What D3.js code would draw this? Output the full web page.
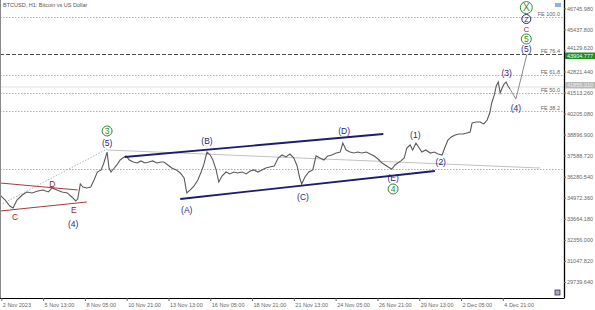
<!DOCTYPE html>
<html>
<head>
<meta charset="utf-8">
<script src="https://cdn.jsdelivr.net/npm/d3@7"></script>
<style>
  body { margin: 0; background: #fff; }
  svg { display: block; font-family: "Liberation Sans", Arial, sans-serif; }
</style>
</head>
<body>
<svg></svg>
<script>
const width = 595;
const height = 310;
const plotRight = 564;
const plotBottom = 298;

// hours since 2 Nov 2023 19:00 UTC, and H1 close prices (sampled)
const startTime = Date.UTC(2023, 10, 2, 19);
const barHours = [0, 8, 15, 20, 26, 34, 41, 49, 58, 66, 74, 80, 87, 95, 103, 110, 116, 119, 123, 127,
  133, 139, 144, 149, 155, 159, 164, 167, 170, 175, 179, 184, 188, 193, 198, 204, 210, 216, 222, 228,
  234, 240, 247, 251, 257, 263, 270, 276, 282, 286, 291, 297, 303, 308, 312, 317, 322, 326, 331, 335,
  340, 346, 352, 358, 364, 371, 377, 383, 389, 395, 401, 407, 413, 420, 426, 432, 438, 444, 450, 455,
  459, 462, 467, 473, 479, 484, 490, 496, 502, 508, 515, 521, 525, 530, 536, 542, 548, 554, 561, 567,
  573, 579, 585, 590, 597, 600, 605, 609, 614, 619, 623, 628, 632, 637, 642, 646, 652, 659, 665, 671,
  677, 681, 686, 691, 697, 703, 709, 715, 720, 723, 729, 735, 741, 746, 750, 753, 757, 760, 763, 766,
  769, 772, 775, 778, 781];
const barClose = [35140, 34830, 34460, 34330, 34830, 35140, 35330, 35270, 35390, 35450, 35330, 35580, 35450, 35330, 35270, 35020, 34770, 34890, 35830, 35640,
  35580, 35640, 36070, 36570, 36700, 37130, 37810, 36820, 36570, 36820, 37010, 37320, 37440, 37570, 37320, 37190, 37130, 37260, 37130, 37190,
  37260, 37130, 37190, 37190, 37010, 36820, 36700, 36510, 36200, 35270, 35450, 35700, 36070, 36570, 37010, 37810, 37630, 37320, 36700, 35950,
  36320, 36570, 36450, 36570, 36510, 36570, 36450, 36630, 36700, 36570, 36700, 36820, 36880, 36950, 37440, 37630, 37510, 37690, 37440, 36950,
  36200, 35830, 36260, 36570, 36700, 37570, 37440, 37320, 37570, 37630, 37750, 37810, 38370, 37940, 37810, 37750, 37810, 37750, 37810, 37690,
  37570, 37380, 37130, 37010, 36820, 36760, 37010, 37130, 37260, 37440, 38060, 38250, 37940, 38370, 38060, 37810, 37940, 37750, 37810, 37690,
  37630, 38060, 38560, 38750, 38870, 38930, 38930, 39000, 39060, 39620, 39680, 39680, 39560, 39800, 40240, 40860, 41360, 41920, 42170, 41480,
  41790, 42040, 42170, 41920, 41730];

// projected path: (4) then (5)
const forecastHours = [781, 790, 807];
const forecastPrice = [41730, 41110, 43905];

// Fibonacci expansion levels
const fibNames = ["FE 100.0", "FE 76.4", "FE 61.8", "FE 50.0", "FE 38.2", ""];
const fibPrice = [46205, 43905, 42594, 41479, 40363, 36752];

const priceTicks = [29739.640, 31047.820, 32356.000, 33664.180, 34972.360, 36280.540, 37588.720,
  38896.900, 40205.080, 41513.260, 42821.440, 44129.620, 45437.800, 46745.980];
const timeTicks = ["2023-11-02T21:00Z", "2023-11-05T13:00Z", "2023-11-08T05:00Z", "2023-11-10T21:00Z",
  "2023-11-13T13:00Z", "2023-11-16T05:00Z", "2023-11-18T21:00Z", "2023-11-21T13:00Z", "2023-11-24T05:00Z",
  "2023-11-26T21:00Z", "2023-11-29T13:00Z", "2023-12-02T05:00Z", "2023-12-04T21:00Z"];
const timeLabels = ["2 Nov 2023", "5 Nov 13:00", "8 Nov 05:00", "10 Nov 21:00", "13 Nov 13:00",
  "16 Nov 05:00", "18 Nov 21:00", "21 Nov 13:00", "24 Nov 05:00", "26 Nov 21:00", "29 Nov 13:00",
  "2 Dec 05:00", "4 Dec 21:00"];

// wave counts: [hour, price, text, kind]
const waveLabels = [
  [23, 33775, "C", "red"], [80, 35826, "D", "red"], [113, 34210, "E", "red"],
  [112, 33340, "(4)", "navy"], [164, 38374, "(5)", "navy"], [164, 39120, "3", "green"],
  [286, 34210, "(A)", "navy"], [317, 38499, "(B)", "navy"], [464, 35019, "(C)", "navy"],
  [527, 39120, "(D)", "navy"], [602, 36199, "(E)", "navy"], [602, 35516, "4", "green"],
  [636, 38872, "(1)", "navy"], [675, 37193, "(2)", "navy"], [776, 42725, "(3)", "navy"],
  [790, 40550, "(4)", "navy"], [806, 44217, "(5)", "navy"], [806, 44838, "5", "green"],
  [806, 45490, "C", "red"], [806, 46080, "Z", "navyCircle"], [806, 46790, "X", "bigGreen"]
];

// trend lines: [h1, p1, h2, p2]
const channelLines = [[191, 37504, 587, 38934], [276, 34894, 666, 36634]];
const triangleLines = [[0, 35889, 119, 35453], [0, 34148, 133, 34708]];
const greyLines = [[164, 37940, 827, 36821]];
const dottedLines = [[0, 34521, 164, 38002]];

const hourMs = 3600 * 1000;
const toDate = h => new Date(startTime + h * hourMs);

const svg = d3.select('svg').attr('width', width).attr('height', height);
const x = d3.scaleUtc()
    .domain([toDate(0), toDate(plotRight * 1.5314)])
    .range([0, plotRight]);
const y = d3.scaleLinear()
    .domain([28741, 47262])
    .range([plotBottom, 0]);

const colors = { navy: "#27277a", red: "#a11d22", green: "#2e8b2e" };

// fib levels
fibPrice.forEach((p, i) => {
    const yy = Math.round(y(p)) + 0.5;
    svg.append("line")
        .attr("x1", 0).attr("x2", plotRight).attr("y1", yy).attr("y2", yy)
        .style("stroke", i === 1 ? "#222" : "#9a9a9a")
        .style("stroke-width", 0.8)
        .style("stroke-dasharray", i === 1 ? "4,2" : "1.5,1.5");
    if (fibNames[i]) {
        svg.append("text")
            .attr("x", 560).attr("y", yy - 2)
            .attr("text-anchor", "end")
            .style("font-size", "5.5px").style("fill", "#666")
            .text(fibNames[i]);
    }
});

// bid line
svg.append("line")
    .attr("x1", 0).attr("x2", plotRight)
    .attr("y1", y(41855)).attr("y2", y(41855))
    .style("stroke", "#c8c8c8").style("stroke-width", 0.6);

function drawSegments(list, color, widthPx, dash) {
    svg.append("g").selectAll("line")
        .data(list)
        .enter().append("line")
        .attr("x1", d => x(toDate(d[0]))).attr("y1", d => y(d[1]))
        .attr("x2", d => x(toDate(d[2]))).attr("y2", d => y(d[3]))
        .style("stroke", color).style("stroke-width", widthPx)
        .style("stroke-dasharray", dash || null);
}

drawSegments(dottedLines, "#9a9a9a", 0.7, "1.5,1.5");
drawSegments(greyLines, "#a8a8a8", 0.7);

// price
const line = d3.line()
    .x((d, i) => x(toDate(barHours[i])))
    .y(d => y(d));
svg.append("path")
    .datum(barClose)
    .attr("d", line)
    .style("fill", "none")
    .style("stroke", "#5a5a5a")
    .style("stroke-width", 1.1);

const fLine = d3.line()
    .x((d, i) => x(toDate(forecastHours[i])))
    .y(d => y(d));
svg.append("path")
    .datum(forecastPrice)
    .attr("d", fLine)
    .style("fill", "none")
    .style("stroke", "#8a8a8a")
    .style("stroke-width", 1);

drawSegments(channelLines, "#1d1d6b", 1.8);
drawSegments(triangleLines, "#a23a44", 1);

// wave labels
waveLabels.forEach(([h, p, t, kind]) => {
    const cx = x(toDate(h));
    const cy = y(p);
    const g = svg.append("g");
    if (kind === "green" || kind === "bigGreen" || kind === "navyCircle") {
        const r = kind === "bigGreen" ? 6 : (kind === "navyCircle" ? 4.5 : 5);
        const c = kind === "navyCircle" ? colors.navy : colors.green;
        g.append("circle")
            .attr("cx", cx).attr("cy", cy).attr("r", r)
            .style("fill", "none").style("stroke", c).style("stroke-width", 1);
        g.append("text")
            .attr("x", cx).attr("y", cy + (kind === "navyCircle" ? 2.5 : 3))
            .attr("text-anchor", "middle")
            .style("font-size", kind === "bigGreen" ? "10px" : (kind === "navyCircle" ? "7px" : "8.5px"))
            .style("fill", c)
            .text(t);
    } else {
        g.append("text")
            .attr("x", cx).attr("y", cy + 3)
            .attr("text-anchor", "middle")
            .style("font-size", kind === "red" && h > 700 ? "8px" : "8.5px")
            .style("fill", colors[kind])
            .text(t);
    }
});

// frame
svg.append("line").attr("x1", 0.5).attr("x2", 0.5).attr("y1", 0).attr("y2", plotBottom)
    .style("stroke", "#888").style("stroke-width", 1);
svg.append("line").attr("x1", plotRight + 0.5).attr("x2", plotRight + 0.5).attr("y1", 0).attr("y2", plotBottom + 0.5)
    .style("stroke", "#000").style("stroke-width", 1.3);
svg.append("line").attr("x1", 0).attr("x2", plotRight).attr("y1", plotBottom + 0.5).attr("y2", plotBottom + 0.5)
    .style("stroke", "#000").style("stroke-width", 1);

// price axis
const yAxis = svg.append("g").attr("transform", `translate(${plotRight},0)`)
    .call(d3.axisRight(y).tickValues(priceTicks).tickSize(2).tickFormat(d3.format(".3f")));
yAxis.select(".domain").remove();
yAxis.selectAll("text").style("font-size", "5.5px").style("fill", "#666").attr("x", 3);
yAxis.selectAll("line").style("stroke", "#666");
// keep the label just above the green price tag
yAxis.selectAll("text").filter(d => d === 44129.62).attr("dy", "-0.2em");

// price tags
function tag(p, txt, bg, fg, shift) {
    const yy = y(p) + shift;
    svg.append("rect").attr("x", plotRight + 1).attr("y", yy - 3).attr("width", 30).attr("height", 6.5)
        .style("fill", bg);
    svg.append("text").attr("x", plotRight + 3).attr("y", yy + 2)
        .style("font-size", "5.5px").style("fill", fg).text(txt);
}
tag(41855, "41855.310", "#b8b8b8", "#eee", -2);
tag(fibPrice[1], "43904.777", "#1f8a1f", "#fff", 1.5);

// time axis
const tickDates = timeTicks.map(s => new Date(s));
const xAxis = svg.append("g").attr("transform", `translate(0,${plotBottom})`)
    .call(d3.axisBottom(x).tickValues(tickDates).tickSize(3).tickFormat((d, i) => timeLabels[i]));
xAxis.select(".domain").remove();
xAxis.selectAll("line").style("stroke", "#666");
xAxis.selectAll("text").attr("text-anchor", "start").attr("x", 1).attr("y", 5)
    .style("font-size", "5.5px").style("fill", "#666");

// title
svg.append("text").attr("x", 3).attr("y", 7)
    .style("font-size", "5.5px").style("fill", "#555")
    .text("BTCUSD, H1:  Bitcoin vs US Dollar");

// small widgets
svg.append("rect").attr("x", 555).attr("y", 290).attr("width", 5).attr("height", 5)
    .style("fill", "#aab").style("stroke", "#335").style("stroke-width", 0.8);
svg.append("rect").attr("x", 555).attr("y", 3).attr("width", 6).attr("height", 4)
    .style("fill", "#8ab4e0");
</script>
</body>
</html>
